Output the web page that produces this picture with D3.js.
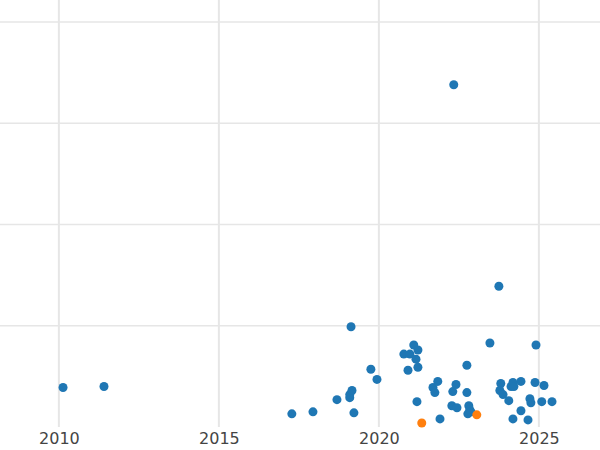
<!DOCTYPE html>
<html><head><meta charset="utf-8">
<script src="https://cdn.jsdelivr.net/npm/d3@7"></script>
<style>body{margin:0;background:#fff}</style>
</head><body><svg id="c" width="600" height="450"></svg>
<script>
const blueYears=[2010.13,2011.41,2017.28,2017.94,2018.69,2019.09,2019.09,2019.16,2019.22,2019.13,2019.75,2019.94,2020.78,2020.91,2020.97,2021.09,2021.22,2021.16,2021.22,2021.19,2021.69,2021.75,2021.84,2021.91,2022.28,2022.31,2022.41,2022.44,2022.34,2022.75,2022.75,2022.81,2022.84,2022.78,2022.88,2023.47,2023.75,2023.81,2023.78,2023.88,2024.06,2024.13,2024.19,2024.22,2024.19,2024.44,2024.44,2024.66,2024.72,2024.75,2024.88,2024.91,2025.09,2025.16,2025.41];
const blueValues=[0.39,0.40,0.13,0.15,0.27,0.29,0.32,0.36,0.14,0.99,0.57,0.47,0.72,0.56,0.72,0.81,0.76,0.67,0.59,0.25,0.39,0.34,0.45,0.08,0.21,0.35,0.42,0.19,3.38,0.61,0.34,0.21,0.17,0.13,0.15,0.83,1.39,0.43,0.36,0.32,0.26,0.40,0.44,0.40,0.08,0.45,0.16,0.07,0.28,0.24,0.44,0.81,0.25,0.41,0.25];
const orangeYears=[2021.34,2023.06];
const orangeValues=[0.04,0.12];
const xTicks=[2010,2015,2020,2025];
const yGrid=[1,2,3,4];

const svg=d3.select("#c");
const x=d3.scaleLinear().domain([2008.16,2026.91]).range([0,600]);
const y=d3.scaleLinear().domain([0,4]).range([427,22]);
const g=svg.append("g");
g.selectAll(".vg").data(xTicks).join("line").attr("x1",d=>x(d)).attr("x2",d=>x(d)).attr("y1",0).attr("y2",427).attr("stroke","#e6e6e6").attr("stroke-width",2);
g.selectAll(".hg").data(yGrid).join("line").attr("x1",0).attr("x2",600).attr("y1",d=>y(d)).attr("y2",d=>y(d)).attr("stroke","#e6e6e6").attr("stroke-width",1.5);
const ax=svg.append("g").attr("transform","translate(0,427)").call(d3.axisBottom(x).tickValues(xTicks).tickFormat(d3.format("d")).tickSize(0).tickPadding(6));
ax.select(".domain").remove();
ax.selectAll("text").attr("font-family","DejaVu Sans").attr("font-size",16).attr("fill","#444");
svg.append("g").selectAll("circle").data(d3.zip(blueYears,blueValues)).join("circle").attr("cx",d=>x(d[0])).attr("cy",d=>y(d[1])).attr("r",4.5).attr("fill","#1f77b4");
svg.append("g").selectAll("circle").data(d3.zip(orangeYears,orangeValues)).join("circle").attr("cx",d=>x(d[0])).attr("cy",d=>y(d[1])).attr("r",4.5).attr("fill","#ff7f0e");
</script></body></html>
